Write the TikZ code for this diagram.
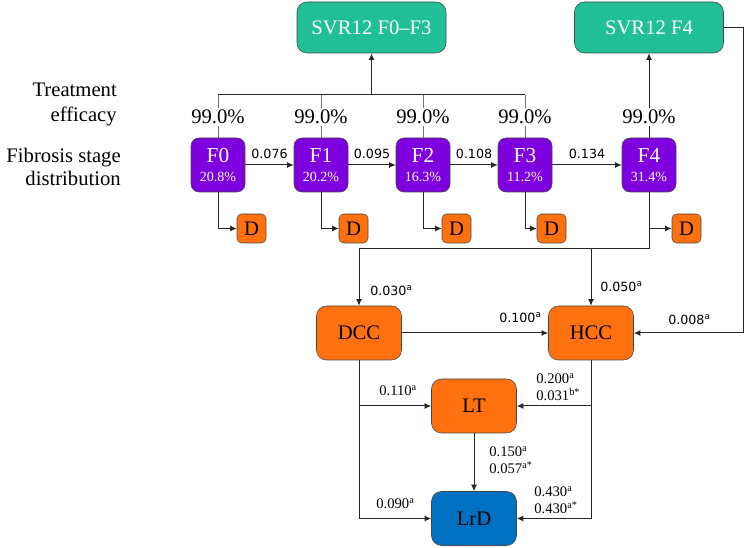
\documentclass[tikz,border=0pt]{standalone}
\usepackage{fontspec}
\setmainfont{Liberation Serif}
\setsansfont{DejaVu Sans}
\usetikzlibrary{arrows.meta}

\definecolor{svrgreen}{RGB}{32,191,150}
\definecolor{stagepurple}{RGB}{127,0,222}
\definecolor{outorange}{RGB}{255,112,14}
\definecolor{lrdblue}{RGB}{0,112,192}
\definecolor{boxline}{RGB}{70,70,70}

\newcommand{\bigtxt}{\fontsize{15.5}{18}\selectfont}
\newcommand{\stagepct}{\fontsize{10.5}{14}\selectfont}

\tikzset{
  svrbox/.style={draw=boxline, fill=svrgreen, text=white, rounded corners=7.5pt,
    minimum width=111.75pt, minimum height=38.25pt, font=\bigtxt},
  stagebox/.style={draw=boxline, fill=stagepurple, text=white, rounded corners=6pt,
    minimum width=40.5pt, minimum height=40.5pt, inner sep=0pt, align=center,
    font=\fontsize{16}{14}\selectfont},
  deathbox/.style={draw=boxline, fill=outorange, rounded corners=3.5pt,
    minimum size=21.75pt, inner sep=0pt, font=\bigtxt},
  statebox/.style={draw=boxline, fill=outorange, rounded corners=7.5pt,
    minimum width=63.75pt, minimum height=40.5pt, font=\bigtxt},
  efflabel/.style={inner sep=1pt, font=\bigtxt},
  rowlabel/.style={anchor=east, align=right, inner sep=0pt},
  plabel/.style={font=\sffamily\fontsize{9.5}{11}\selectfont},
  slabel/.style={anchor=west, inner sep=0pt, font=\sffamily\fontsize{9.5}{11}\selectfont},
  rlabel/.style={anchor=west, align=left, inner sep=0pt, font=\fontsize{11}{12.75}\selectfont},
  tick/.style={draw=black!55, line width=0.75pt},
  link/.style={draw=black!85, line width=0.75pt},
  >={Latex[length=5pt,width=4.5pt]}
}

\begin{document}
\begin{tikzpicture}[x=0.75pt,y=0.75pt,yscale=-1,xscale=1]
\useasboundingbox (0,0) rectangle (746,548);

%SVR boxes
\node[svrbox] (svr1) at (371.5,27.5) {SVR12 F0--F3};
\node[svrbox] (svr2) at (649,27.5) {SVR12 F4};

%row labels
\node[rowlabel, font=\fontsize{15.5}{18.75}\selectfont] (txeff) at (117,104.5) {Treatment\\efficacy};
\node[rowlabel, font=\fontsize{15.5}{17.25}\selectfont] (txdist) at (121,166.5) {Fibrosis stage\\distribution};

%fibrosis stages
\node[stagebox] (f0) at (218,165) {F0\\\stagepct 20.8\%};
\node[stagebox] (f1) at (321,165) {F1\\\stagepct 20.2\%};
\node[stagebox] (f2) at (423,165) {F2\\\stagepct 16.3\%};
\node[stagebox] (f3) at (525,165) {F3\\\stagepct 11.2\%};
\node[stagebox] (f4) at (649,165) {F4\\\stagepct 31.4\%};

%treatment efficacy
\node[efflabel] (e0) at (218,117) {99.0\%};
\node[efflabel] (e1) at (321,117) {99.0\%};
\node[efflabel] (e2) at (423,117) {99.0\%};
\node[efflabel] (e3) at (525,117) {99.0\%};
\node[efflabel] (e4) at (649,117) {99.0\%};

%death boxes
\node[deathbox] (d0) at (251.5,228.5) {D};
\node[deathbox] (d1) at (353.5,228.5) {D};
\node[deathbox] (d2) at (456.5,228.5) {D};
\node[deathbox] (d3) at (551.5,228.5) {D};
\node[deathbox] (d4) at (686.5,228.5) {D};

%liver states
\node[statebox] (dcc) at (359,333) {DCC};
\node[statebox] (hcc) at (591,333) {HCC};
\node[statebox] (lt) at (474,406) {LT};
\node[statebox, fill=lrdblue] (lrd) at (474,518.5) {LrD};

%efficacy to SVR
\coordinate (bus0) at (218,95);
\coordinate (bus3) at (525,95);
\draw[tick] (f0) -- (e0);
\draw[tick] (f1) -- (e1);
\draw[tick] (f2) -- (e2);
\draw[tick] (f3) -- (e3);
\draw[tick] (e0) -- (bus0);
\draw[tick] (e1) -- (e1 |- bus0);
\draw[tick] (e2) -- (e2 |- bus0);
\draw[tick] (e3) -- (bus3);
\draw[link] (bus0) -- (bus3);
\draw[link, ->, line width=1.1pt] (svr1 |- bus0) -- (svr1);
\draw[link] (f4) -- (e4);
\draw[link, ->] (e4) -- (svr2);

%stage progression
\draw[link, ->] (f0) -- (f1) node[midway, above=1pt, plabel] {0.076};
\draw[link, ->] (f1) -- (f2) node[midway, above=1pt, plabel] {0.095};
\draw[link, ->] (f2) -- (f3) node[midway, above=1pt, plabel] {0.108};
\draw[link, ->] (f3) -- (f4) node[midway, above=1pt, plabel] {0.134};

%background death
\draw[link, ->] (f0) |- (d0);
\draw[link, ->] (f1) |- (d1);
\draw[link, ->] (f2) |- (d2);
\draw[link, ->] (f3) |- (d3);
\draw[link, ->] (f4) |- (d4);

%F4 to complications
\coordinate (jn) at (649,249);
\coordinate (rc) at (743,333);
\draw[link] (f4) -- (jn);
\draw[link, ->] (jn) -| (dcc);
\draw[link, ->] (hcc |- jn) -- (hcc);
\draw[link, ->] (svr2) -| (rc) -- (hcc);
\draw[link, ->] (dcc) -- (hcc);

%to LT and LrD
\draw[link, ->] (dcc) |- (lrd);
\draw[link, ->] (dcc |- lt) -- (lt);
\draw[link, ->] (hcc) |- (lrd);
\draw[link, ->] (hcc |- lt) -- (lt);
\draw[link, ->] (lt) -- (lrd);

%transition labels
\node[slabel] (p30) at (370,291) {0.030\textsuperscript{a}};
\node[slabel] (p50) at (600,287) {0.050\textsuperscript{a}};
\node[slabel] (p100) at (499,318) {0.100\textsuperscript{a}};
\node[slabel] (p8) at (668,320) {0.008\textsuperscript{a}};
\node[rlabel] (p110) at (379,391) {0.110\textsuperscript{a}};
\node[rlabel] (p200) at (536,387.5) {0.200\textsuperscript{a}\\0.031\textsuperscript{b*}};
\node[rlabel] (p150) at (489,460.5) {0.150\textsuperscript{a}\\0.057\textsuperscript{a*}};
\node[rlabel] (p430) at (534,500.5) {0.430\textsuperscript{a}\\0.430\textsuperscript{a*}};
\node[rlabel] (p90) at (376,504) {0.090\textsuperscript{a}};

\end{tikzpicture}
\end{document}
